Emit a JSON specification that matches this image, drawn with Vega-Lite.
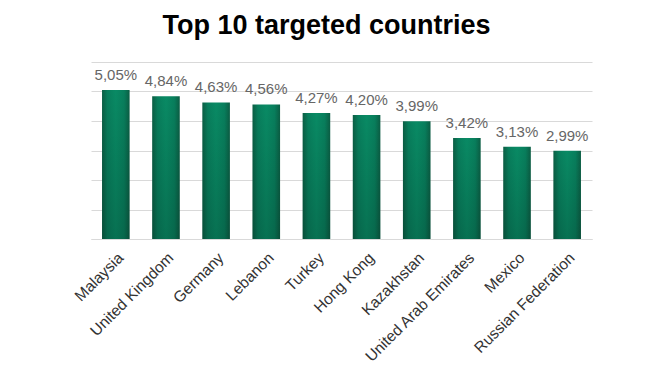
{
  "$schema": "https://vega.github.io/schema/vega-lite/v6.json",
  "width": 501,
  "height": 177,
  "autosize": {"type": "none"},
  "padding": {"left": 91, "top": 62, "right": 62, "bottom": 134},
  "background": "white",
  "config": {
    "view": {"stroke": null},
    "font": "Liberation Sans",
    "locale": {"number": {"decimal": ",", "thousands": ".", "grouping": [3], "currency": ["", " €"]}}
  },
  "title": {
    "text": "Top 10 targeted countries",
    "fontSize": 27,
    "fontWeight": "bold",
    "color": "#000000",
    "font": "Liberation Sans",
    "anchor": "middle",
    "dx": -15,
    "baseline": "alphabetic",
    "offset": 1
  },
  "data": {
    "values": [
      {"country": "Malaysia", "share": 0.0505},
      {"country": "United Kingdom", "share": 0.0484},
      {"country": "Germany", "share": 0.0463},
      {"country": "Lebanon", "share": 0.0456},
      {"country": "Turkey", "share": 0.0427},
      {"country": "Hong Kong", "share": 0.0420},
      {"country": "Kazakhstan", "share": 0.0399},
      {"country": "United Arab Emirates", "share": 0.0342},
      {"country": "Mexico", "share": 0.0313},
      {"country": "Russian Federation", "share": 0.0299}
    ]
  },
  "encoding": {
    "x": {
      "field": "country",
      "type": "nominal",
      "sort": null,
      "scale": {"paddingInner": 0.45, "paddingOuter": 0.22},
      "axis": {
        "title": null,
        "labelAngle": -45,
        "labelFontSize": 15.5,
        "labelColor": "#333333",
        "labelPadding": 11,
        "ticks": false,
        "domainColor": "#d9d9d9",
        "domainWidth": 1
      }
    },
    "y": {
      "field": "share",
      "type": "quantitative",
      "scale": {"domain": [0, 0.06], "nice": false},
      "axis": {
        "title": null,
        "labels": false,
        "ticks": false,
        "domain": false,
        "values": [0, 0.01, 0.02, 0.03, 0.04, 0.05, 0.06],
        "gridColor": "#d9d9d9",
        "gridWidth": 1
      }
    }
  },
  "layer": [
    {
      "mark": {
        "type": "bar",
        "color": {
          "gradient": "linear",
          "x1": 0, "x2": 1, "y1": 0, "y2": 0,
          "stops": [
            {"offset": 0, "color": "#0b5e44"},
            {"offset": 0.2, "color": "#087e5c"},
            {"offset": 0.5, "color": "#098a64"},
            {"offset": 0.8, "color": "#087e5c"},
            {"offset": 1, "color": "#0b5e44"}
          ]
        }
      }
    },
    {
      "mark": {
        "type": "bar",
        "color": {
          "gradient": "linear",
          "x1": 0, "x2": 0, "y1": 0, "y2": 1,
          "stops": [
            {"offset": 0, "color": "rgba(0,0,0,0)"},
            {"offset": 1, "color": "rgba(0,0,0,0.18)"}
          ]
        }
      }
    },
    {
      "mark": {
        "type": "text",
        "baseline": "alphabetic",
        "dy": -10,
        "fontSize": 15,
        "color": "#666666"
      },
      "encoding": {
        "text": {"field": "share", "type": "quantitative", "format": ".2%"}
      }
    }
  ]
}
